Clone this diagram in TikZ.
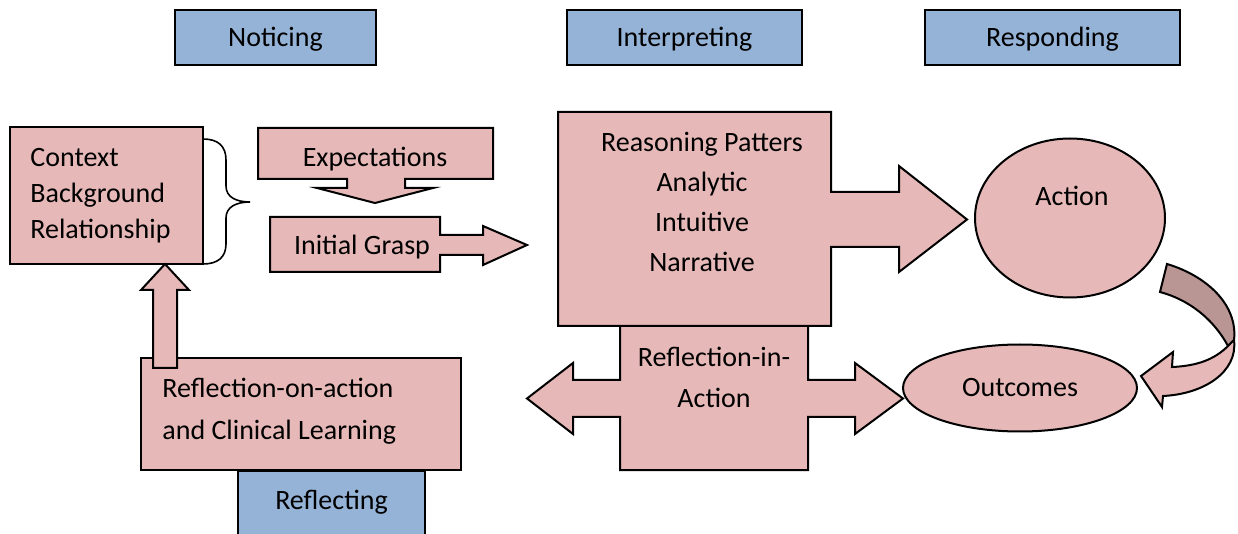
\documentclass[tikz,border=0pt]{standalone}
\usepackage{fontspec}
\setmainfont{Carlito}
\usetikzlibrary{shapes}
\usetikzlibrary{arrows}

\definecolor{boxpink}{HTML}{E6B9B8}
\definecolor{hdblue}{HTML}{95B3D7}
\definecolor{twistpink}{HTML}{B99694}

\begin{document}
\begin{tikzpicture}[x=0.5pt,y=-0.5pt]
	\tikzstyle{every node}=[font=\fontsize{14}{18}\selectfont]
	\tikzstyle{phase}=[draw,fill=hdblue,line width=1pt,minimum height=27.5pt,text height=11.5pt,text depth=2.5pt]
	\tikzstyle{blk}=[draw,fill=boxpink,line width=1pt,line join=miter]
	\tikzstyle{oval}=[ellipse,draw,fill=boxpink,line width=1pt,inner sep=0pt]
	\tikzstyle{lbl}=[inner sep=0pt,align=center]
	\useasboundingbox (0,0) rectangle (1238,534);

	% the four phases
	\node[phase,minimum width=100.5pt] (notice) at (275.5,37.5) {Noticing};
	\node[phase,minimum width=117.5pt] (interp) at (684.5,37.5) {Interpreting};
	\node[phase,minimum width=127.5pt] (respond) at (1052.5,37.5) {Responding};

	% noticing side
	\node[blk,minimum width=96.5pt,minimum height=68.5pt] (ctx) at (106.5,195.5) {};
	\node[lbl,anchor=west,align=left] (ctxtxt) at (30,196) {Context\\Background\\Relationship};
	\draw[line width=0.8pt] (203,139) .. controls (218,139) and (226,146) .. (226,160) -- (226,186)
		.. controls (226,197) and (236,202) .. (250,202)
		.. controls (236,202) and (226,207) .. (226,218) -- (226,244)
		.. controls (226,257) and (218,264) .. (203,264);

	\draw[blk] (258,128) -- (493,128) -- (493,179) -- (405,179) -- (405,188) -- (433,188) -- (375,203)
		-- (317,188) -- (347,188) -- (347,179) -- (258,179) -- cycle;
	\node[lbl] (expect) at (375,159) {Expectations};

	\draw[blk] (270,217) -- (440,217) -- (440,235) -- (483,235) -- (483,226) -- (527,245) -- (483,265)
		-- (483,255) -- (440,255) -- (440,272) -- (270,272) -- cycle;
	\node[lbl] (grasp) at (362,247) {Initial Grasp};

	% interpreting
	\draw[blk] (620,326) -- (808,326) -- (808,380) -- (855,380) -- (855,363) -- (903,398.5) -- (855,434)
		-- (855,417) -- (808,417) -- (808,470) -- (620,470) -- (620,417) -- (573,417) -- (573,434)
		-- (527,398.5) -- (573,363) -- (573,380) -- (620,380) -- cycle;
	\node[lbl,font=\fontsize{14}{20.5}\selectfont] (rinact) at (714,377) {Reflection-in-\\Action};

	\draw[blk] (558,112) -- (831,112) -- (831,192) -- (899,192) -- (899,166) -- (967,219.5) -- (899,272)
		-- (899,247) -- (831,247) -- (831,326) -- (558,326) -- cycle;
	\node[lbl,font=\fontsize{14}{20}\selectfont] (reason) at (702,202) {Reasoning Patters\\Analytic\\Intuitive\\Narrative};

	% responding
	\node[oval,minimum width=95pt,minimum height=79.5pt] (act) at (1070,218) {};
	\node[lbl] (acttxt) at (1072,196) {Action};
	\node[oval,minimum width=117pt,minimum height=43.5pt] (outc) at (1020,388) {Outcomes};

	\draw[blk,fill=twistpink] (1167,264) .. controls (1207,276) and (1238,305) .. (1234,340)
		-- (1228,346) .. controls (1214,320) and (1190,300) .. (1160,292) -- cycle;
	\draw[blk] (1228,346) .. controls (1214,360) and (1196,366) .. (1172,367) -- (1173,352) -- (1141,376)
		-- (1162,407) -- (1163,396) .. controls (1204,394) and (1238,372) .. (1234,340) -- cycle;

	% reflecting
	\node[blk,minimum width=160pt,minimum height=56pt] (ronact) at (301,414) {};
	\node[lbl,anchor=west,align=left,font=\fontsize{14}{21}\selectfont] (ronacttxt) at (162,411) {Reflection-on-action\\and Clinical Learning};
	\draw[blk] (153,368) -- (153,290) -- (141,290) -- (165,264) -- (189,290) -- (177,290) -- (177,368) -- cycle;
	\draw[phase] (238,536) rectangle (425,471);
	\node[lbl] (reflect) at (331.5,502) {Reflecting};
\end{tikzpicture}
\end{document}
